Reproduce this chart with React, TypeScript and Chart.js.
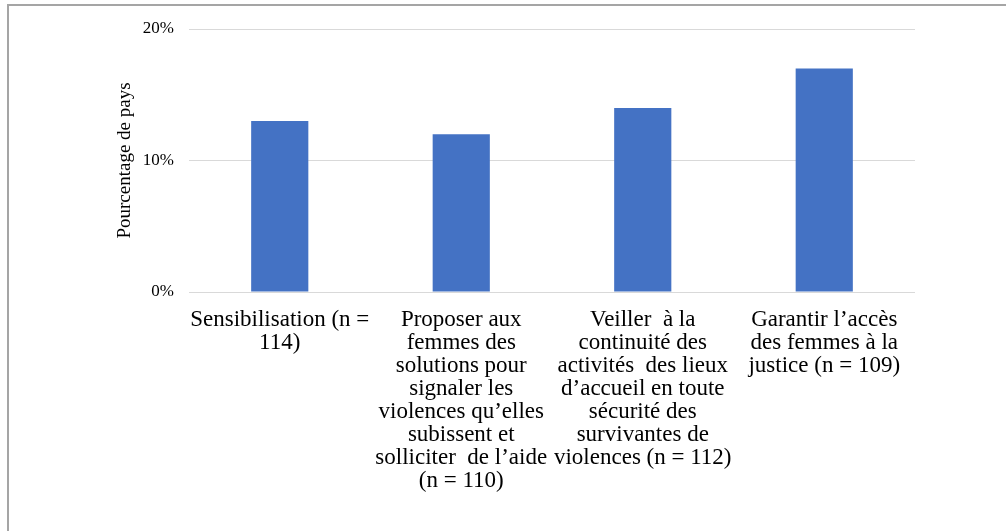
import React, { useEffect, useRef } from "react";
import { Chart, registerables } from "chart.js";

Chart.register(...registerables);

const categories: string[][] = [
  ["Sensibilisation (n =", "114)"],
  [
    "Proposer aux",
    "femmes des",
    "solutions pour",
    "signaler les",
    "violences qu’elles",
    "subissent et",
    "solliciter  de l’aide",
    "(n = 110)",
  ],
  [
    "Veiller  à la",
    "continuité des",
    "activités  des lieux",
    "d’accueil en toute",
    "sécurité des",
    "survivantes de",
    "violences (n = 112)",
  ],
  ["Garantir l’accès", "des femmes à la", "justice (n = 109)"],
];

const values: number[] = [13, 12, 14, 17];

const yTicks: number[] = [0, 10, 20];

const yTitle = "Pourcentage de pays";

const FONT = "'Liberation Serif', 'Times New Roman', serif";

export default function App() {
  const ref = useRef<HTMLCanvasElement | null>(null);

  useEffect(() => {
    if (!ref.current) return;
    const chart = new Chart(ref.current, {
      type: "bar",
      data: {
        labels: categories as any,
        datasets: [
          {
            data: values,
            backgroundColor: "#4472C4",
            borderWidth: 0,
            categoryPercentage: 1,
            barPercentage: 0.315,
          },
        ],
      },
      options: {
        responsive: false,
        animation: false,
        devicePixelRatio: 1,
        layout: { padding: { left: 0, right: 91, top: 29, bottom: 0 } },
        plugins: {
          legend: { display: false },
          tooltip: { enabled: false },
        },
        scales: {
          x: {
            grid: { display: false, drawTicks: false },
            border: { display: false },
            ticks: {
              autoSkip: false,
              maxRotation: 0,
              minRotation: 0,
              padding: 16,
              color: "#000",
              font: { family: FONT, size: 23, lineHeight: 1 },
            },
            afterFit: (scale: any) => {
              scale.height = 239;
            },
          },
          y: {
            min: yTicks[0],
            max: yTicks[yTicks.length - 1],
            afterBuildTicks: (scale: any) => {
              scale.ticks = yTicks.map((v) => ({ value: v }));
            },
            grid: { color: "#d9d9d9", lineWidth: 1, drawTicks: false },
            border: { display: false },
            ticks: {
              padding: 15,
              color: "#000",
              font: { family: FONT, size: 17 },
              callback: (v: any) => v + "%",
            },
            title: {
              display: true,
              text: yTitle,
              color: "#000",
              font: { family: FONT, size: 19, lineHeight: 1.2 },
              padding: { top: 113.6, bottom: 0 },
            },
            afterFit: (scale: any) => {
              scale.width = 189;
            },
          },
        },
      },
    });
    return () => chart.destroy();
  }, []);

  return (
    <div
      style={{
        position: "fixed",
        left: 0,
        top: 0,
        width: 1006,
        height: 531,
        overflow: "hidden",
        background: "#fff",
      }}
    >
      <div
        style={{
          position: "absolute",
          left: 7,
          top: 4,
          width: 2000,
          height: 2000,
          borderTop: "2px solid #a5a5a5",
          borderLeft: "2px solid #a5a5a5",
        }}
      />
      <canvas
        ref={ref}
        width={1006}
        height={531}
        style={{ position: "absolute", left: 0, top: 0, width: 1006, height: 531 }}
      />
    </div>
  );
}
